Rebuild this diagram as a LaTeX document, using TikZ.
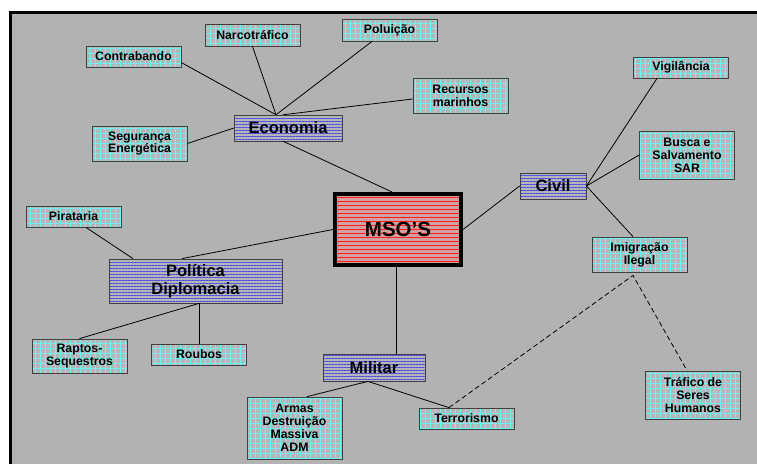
\documentclass[tikz,border=0pt]{standalone}
\usepackage{fontspec}
\setmainfont{Liberation Sans}
\usetikzlibrary{positioning,calc,patterns.meta}
\definecolor{panelgray}{HTML}{B2B2B2}
\definecolor{boxgray}{HTML}{B6B6B6}
\definecolor{leafcyan}{HTML}{6CF6F6}
\definecolor{topicblue}{HTML}{4A4AE8}
\definecolor{hubpink}{RGB}{210,160,160}
\definecolor{hubred}{RGB}{255,30,30}

\tikzset{
    box/.style={draw=black!75, line width=0.8pt, preaction={fill=boxgray},
        inner sep=0pt, align=center},
    leaf/.style={box, minimum width=95pt,
        pattern={Hatch[angle=0, distance=5pt, line width=0.5pt]}, pattern color=leafcyan,
        font=\fontsize{12.3}{12.9}\selectfont\bfseries},
    topic/.style={box,
        pattern={Lines[angle=0, distance=3pt, line width=0.45pt]}, pattern color=topicblue,
        font=\fontsize{16.5}{18}\selectfont\bfseries},
    hub/.style={draw=black, line width=4pt, minimum width=126pt, minimum height=71pt,
        inner sep=0pt, align=center, font=\fontsize{20.5}{22}\selectfont\bfseries},
    hubline/.style={draw=hubred, line width=1pt},
    link/.style={black, line width=0.8pt},
    hint/.style={link, dash pattern=on 5pt off 3pt}
}

\begin{document}
\begin{tikzpicture}[x=1pt, y=-1pt]
    \useasboundingbox (0,0) rectangle (757,463);
    \clip (0,0) rectangle (757,463);

    % Panel
    \fill[white] (0,0) rectangle (757,463);
    \draw[line width=3pt, fill=panelgray] (10.5,12.5) rectangle (800,500);

    % Hub background stripes
    \fill[hubpink] (335,194) rectangle (461,265);
    \foreach \y in {197,201,...,265} {
        \draw[hubline] (335,\y) -- (461,\y);
    }

    % Hub
    \node[hub] (mso) at (398,229.5) {MSO'S};

    % Topics
    \node[topic, minimum width=108pt, minimum height=26pt] (eco) at (288,128) {Economia};
    \node[topic, minimum width=66pt, minimum height=26pt] (civil) at (553,186) {Civil};
    \node[topic, minimum width=173pt, minimum height=44pt] (pol) at (195.5,281) {Política\\Diplomacia};
    \node[topic, minimum width=102pt, minimum height=27pt] (mil) at (374,367.5) {Militar};

    % Economia leaves
    \node[leaf, minimum height=21pt] (contra) at (133.5,56.5) {Contrabando};
    \node[leaf, minimum height=22pt] (narco) at (252.5,35) {Narcotráfico};
    \node[leaf, minimum height=22pt] (polu) at (389.5,30) {Poluição};
    \node[leaf, minimum height=35pt] (recur) at (460.5,95.5) {Recursos\\marinhos};
    \node[leaf, minimum height=35pt] (seg) at (139.5,143.5) {Segurança\\Energética};

    % Civil leaves
    \node[leaf, minimum height=21pt] (vigi) at (681,67.5) {Vigilância};
    \node[leaf, minimum height=48pt] (busca) at (687,155) {Busca e\\Salvamento\\SAR};
    \node[leaf, minimum height=35pt] (imig) at (639.5,254.5) {Imigração\\Ilegal};
    \node[leaf, minimum height=48pt] (traf) at (693,395) {Tráfico de\\Seres\\Humanos};

    % Politica leaves
    \node[leaf, minimum height=21pt] (pira) at (73.5,216.5) {Pirataria};
    \node[leaf, minimum height=34pt] (rapt) at (79.5,356) {Raptos-\\Sequestros};
    \node[leaf, minimum height=21pt] (roub) at (199,354.5) {Roubos};

    % Militar leaves
    \node[leaf, minimum height=62pt] (armas) at (294.5,428) {Armas\\Destruição\\Massiva\\ADM};
    \node[leaf, minimum height=21pt] (terr) at (466.5,418.5) {Terrorismo};

    % Junction points
    \coordinate (ecotop) at ($(eco.north)+(-12,0)$);
    \coordinate (ecotop2) at ($(eco.north)+(-5,0)$);
    \coordinate (ecobot) at ($(eco.south)+(-5,0)$);
    \coordinate (msotop) at ($(mso.north)+(-6,0)$);
    \coordinate (msobot) at ($(mso.south)+(-2,0)$);
    \coordinate (miltop) at (msobot |- mil.north);
    \coordinate (poltop) at ($(pol.north)+(-13.5,0)$);
    \coordinate (poltop2) at ($(pol.north)+(-62.5,0)$);
    \coordinate (polbot) at ($(pol.south)+(3.5,0)$);
    \coordinate (milbot) at ($(mil.south)+(-6,0)$);
    \coordinate (contraend) at ($(contra.east)+(0,6)$);
    \coordinate (poluend) at ($(polu.south)+(-17.5,0)$);
    \coordinate (recurend) at ($(recur.west)+(0,3.5)$);
    \coordinate (piraend) at ($(pira.south)+(12.5,0)$);
    \coordinate (vigiend) at ($(vigi.south)+(-24,0)$);
    \coordinate (imigtop) at ($(imig.north)+(-6.5,0)$);
    \coordinate (imigbot) at ($(imig.south)+(-6.5,3)$);
    \coordinate (armasend) at ($(armas.north)+(12.5,0)$);
    \coordinate (terrtop) at ($(terr.north)+(-17.5,0)$);
    \coordinate (traftop) at ($(traf.north)+(-6,0)$);

    % Links
    \foreach \a/\b in {contraend/ecotop, narco.south/ecotop, poluend/ecotop,
        recurend/ecotop2, seg.east/eco.west, ecobot/msotop,
        mso.west/poltop, piraend/poltop2, polbot/rapt.north, polbot/roub.north,
        msobot/miltop, mso.east/civil.west,
        civil.east/vigiend, civil.east/busca.west, civil.east/imigtop,
        milbot/armasend, milbot/terrtop} {
        \draw[link] (\a) -- (\b);
    }

    % Dashed links
    \draw[hint] (terrtop) -- (imigbot) -- (traftop);
\end{tikzpicture}
\end{document}
